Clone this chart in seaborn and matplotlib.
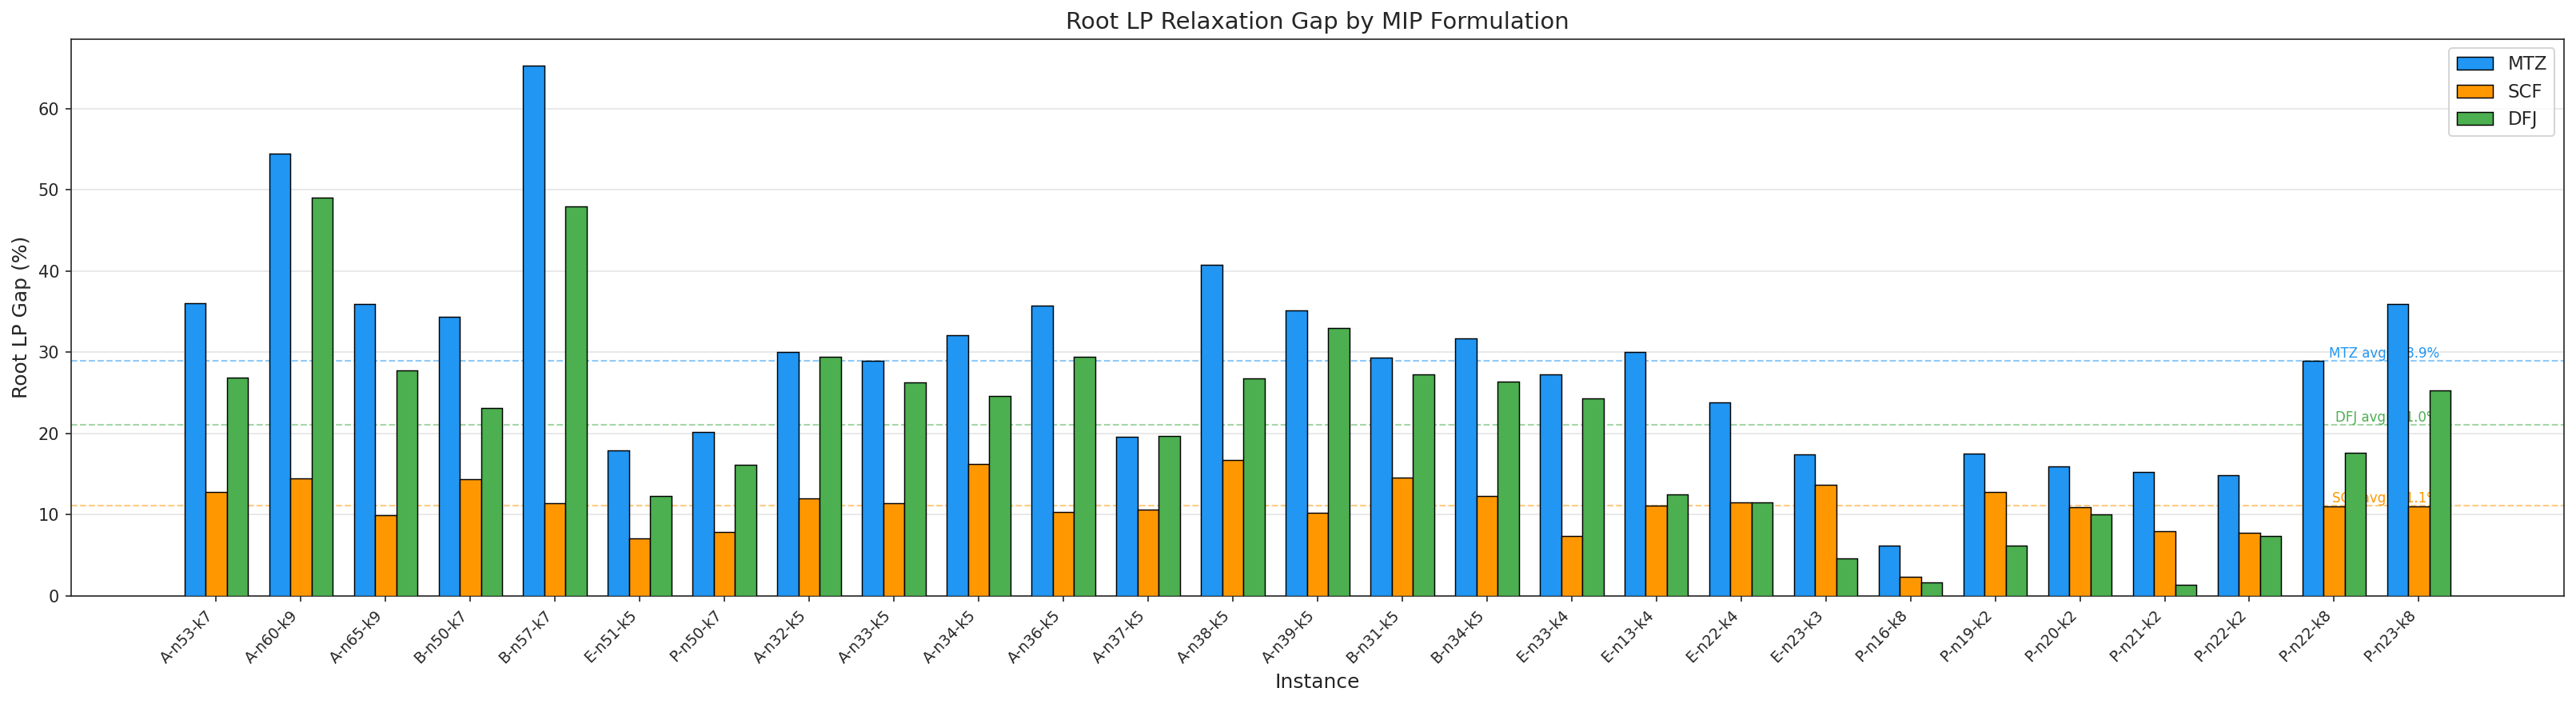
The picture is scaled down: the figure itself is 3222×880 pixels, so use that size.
import matplotlib
matplotlib.use('Agg')
import matplotlib.pyplot as plt
import pandas as pd
import seaborn as sns
import numpy as np

#Instances in the order they appear on the x axis
instances = ['A-n53-k7', 'A-n60-k9', 'A-n65-k9', 'B-n50-k7', 'B-n57-k7', 'E-n51-k5',
             'P-n50-k7', 'A-n32-k5', 'A-n33-k5', 'A-n34-k5', 'A-n36-k5', 'A-n37-k5',
             'A-n38-k5', 'A-n39-k5', 'B-n31-k5', 'B-n34-k5', 'E-n33-k4', 'E-n13-k4',
             'E-n22-k4', 'E-n23-k3', 'P-n16-k8', 'P-n19-k2', 'P-n20-k2', 'P-n21-k2',
             'P-n22-k2', 'P-n22-k8', 'P-n23-k8']

#Root LP gap (%) per formulation
mtz = [36.0, 54.4, 35.9, 34.35, 65.3, 17.9, 20.2, 30.0, 28.9, 32.1, 35.7, 19.6, 40.8, 35.1,
       29.3, 31.7, 27.3, 30.0, 23.8, 17.4, 6.2, 17.5, 15.9, 15.2, 14.85, 28.9, 35.9]
scf = [12.8, 14.5, 9.9, 14.4, 11.4, 7.1, 7.9, 12.0, 11.4, 16.2, 10.3, 10.6, 16.7, 10.2,
       14.6, 12.3, 7.4, 11.1, 11.5, 13.7, 2.3, 12.8, 10.9, 8.0, 7.8, 11.0, 11.0]
dfj = [26.9, 49.0, 27.8, 23.1, 47.9, 12.3, 16.1, 29.4, 26.3, 24.6, 29.4, 19.7, 26.75, 32.95,
       27.25, 26.4, 24.3, 12.45, 11.5, 4.6, 1.6, 6.2, 10.0, 1.4, 7.4, 17.6, 25.3]

formulations = ['MTZ', 'SCF', 'DFJ']
colors = ['#2196F3', '#FF9800', '#4CAF50']

#Long form table for seaborn
table = pd.DataFrame({
    'Instance': instances * 3,
    'Formulation': [f for f in formulations for _ in instances],
    'Gap': mtz + scf + dfj,
})

sns.set_style('ticks')

fig, ax = plt.subplots(figsize=(21.48, 5.8667), dpi=150)
fig.subplots_adjust(left=0.0276, right=0.9953, bottom=0.1537, top=0.9447)

sns.barplot(data=table, x='Instance', y='Gap', hue='Formulation', order=instances,
            hue_order=formulations, palette=colors, saturation=1, width=0.75,
            edgecolor='black', linewidth=0.7, errorbar=None, zorder=3, ax=ax)

#average lines with labels at the right side
for name, vals, col in zip(formulations, [mtz, scf, dfj], colors):
    avg = np.mean(vals)
    ax.axhline(avg, color=col, linestyle='--', linewidth=1, alpha=0.5, zorder=2)
    ax.text(0.95, avg, f'{name} avg={avg:.1f}%', transform=ax.get_yaxis_transform(),
            ha='right', va='bottom', fontsize=8, color=col, zorder=2)

#same x margins as a plain matplotlib bar chart
n = len(instances)
span = (n - 1) + 0.75
ax.set_xlim(-0.375 - 0.05 * span, n - 1 + 0.375 + 0.05 * span)

ax.yaxis.grid(True, color='0.8', alpha=0.5, linewidth=0.8, zorder=0)
ax.set_axisbelow(True)

ax.set_title('Root LP Relaxation Gap by MIP Formulation', fontsize=14)
ax.set_xlabel('Instance', fontsize=12)
ax.set_ylabel('Root LP Gap (%)', fontsize=12)
plt.setp(ax.get_xticklabels(), rotation=45, ha='right', fontsize=9)
ax.tick_params(axis='y', labelsize=10)

handles, labels = ax.get_legend_handles_labels()
ax.legend(handles, labels, loc='upper right', fontsize=11, title=None)

plt.savefig('out.png', dpi=150)
